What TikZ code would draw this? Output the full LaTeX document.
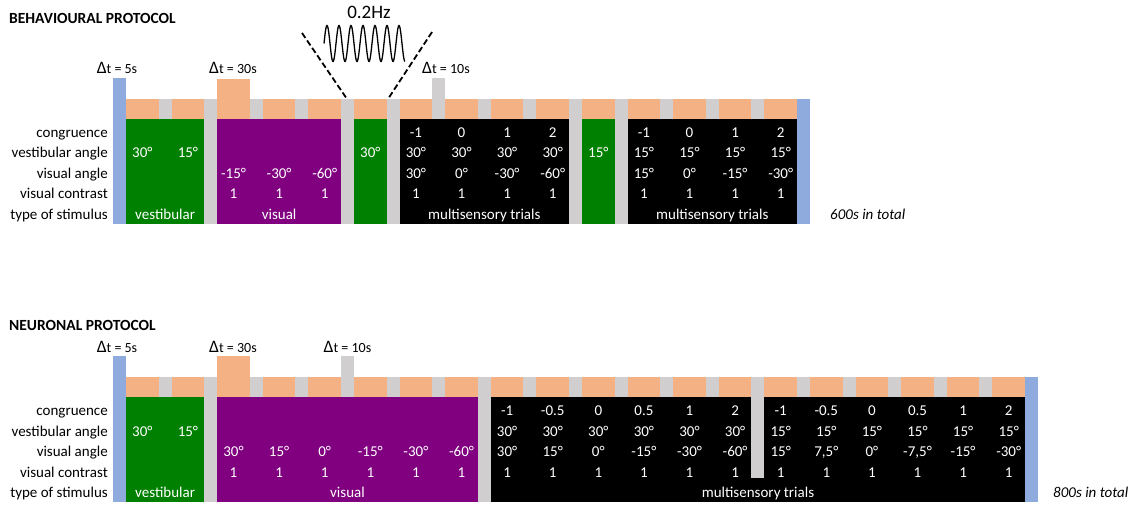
\documentclass[tikz,border=0pt]{standalone}
\usepackage{fontspec}
\setmainfont{Carlito}
\definecolor{peach}{HTML}{F4B183}
\definecolor{lgray}{HTML}{D0CECE}
\definecolor{lblue}{HTML}{8FAADC}
\definecolor{vgreen}{HTML}{008000}
\definecolor{vpurple}{HTML}{800080}
\newcommand{\dtlabel}[1]{{\fontsize{17.5}{18}\selectfont Δ}{\fontsize{14}{16}\selectfont t = #1}}
\begin{document}
\begin{tikzpicture}[x=1pt,y=-1pt,
  every node/.style={font=\fontsize{15}{18}\selectfont, inner sep=0pt},
  rowlab/.style={anchor=base east},
  val/.style={anchor=base, text=white},
  ttl/.style={anchor=base west, font=\fontsize{15.5}{18}\selectfont\bfseries},
  tot/.style={anchor=base west, font=\fontsize{15}{18}\selectfont\itshape},
  dtl/.style={anchor=base}]
\useasboundingbox (0,0) rectangle (1137,505);
\def\rA{137.5}\def\rB{158}\def\rC{178.5}\def\rD{199}\def\rE{219.5}
% ================= BEHAVIOURAL =================
\node[ttl] (t1) at (9,23.3) {BEHAVIOURAL PROTOCOL};
\fill[lgray] (126,99) rectangle (797,224);
\foreach \i in {0,...,14} \fill[peach] ({126+\i*45.6},99) rectangle ++(32.6,20);
\fill[peach] (217.2,79) rectangle (249.8,99);
\fill[lgray] (432.2,78) rectangle (445.2,99);
\fill[lblue] (113,78) rectangle (126,224);
\fill[lblue] (797,99) rectangle (810,224);
\fill[vgreen] (126,119) rectangle (204.2,224);
\fill[vpurple] (217.2,119) rectangle (341,224);
\fill[vgreen] (354,119) rectangle (386.6,224);
\fill[black] (399.6,119) rectangle (569,224);
\fill[vgreen] (582,119) rectangle (614.6,224);
\fill[black] (627.6,119) rectangle (797,224);
% labels
\node[rowlab] (a1) at (108,\rA) {congruence};
\node[rowlab] (a2) at (108,\rB) {vestibular angle};
\node[rowlab] (a3) at (108,\rC) {visual angle};
\node[rowlab] (a4) at (108,\rD) {visual contrast};
\node[rowlab] (a5) at (108,\rE) {type of stimulus};
\foreach \i/\t in {6/-1,7/0,8/1,9/2,11/-1,12/0,13/1,14/2}
  \node[val] (ac\i) at ({142.3+\i*45.6},\rA) {\t};
\foreach \i/\t in {0/30°,1/15°,5/30°,6/30°,7/30°,8/30°,9/30°,10/15°,11/15°,12/15°,13/15°,14/15°}
  \node[val] (av\i) at ({142.3+\i*45.6},\rB) {\t};
\foreach \i/\t in {2/-15°,3/-30°,4/-60°,6/30°,7/0°,8/-30°,9/-60°,11/15°,12/0°,13/-15°,14/-30°}
  \node[val] (aw\i) at ({142.3+\i*45.6},\rC) {\t};
\foreach \i in {2,3,4,6,7,8,9,11,12,13,14}
  \node[val] (ak\i) at ({142.3+\i*45.6},\rD) {1};
\node[val] (as1) at (165.1,\rE) {vestibular};
\node[val] (as2) at (279.1,\rE) {visual};
\node[val] (as3) at (484.3,\rE) {multisensory trials};
\node[val] (as4) at (712.3,\rE) {multisensory trials};
\node[tot] (tot1) at (830,\rE) {600s in total};
\node[dtl] (d1) at (117,74) {\dtlabel{5s}};
\node[dtl] (d2) at (233,74) {\dtlabel{30s}};
\node[dtl] (d3) at (446,74) {\dtlabel{10s}};
% 0.2 Hz
\node[anchor=base, font=\fontsize{19}{22}\selectfont] (hz) at (369,19) {0.2Hz};
\draw[line width=1.3pt] plot[domain=0:6.75, samples=220, smooth] ({324+\x*12},{43.5-18*sin(\x*360)});
\coordinate (l1) at (302,33); \coordinate (l2) at (347,99);
\coordinate (r1) at (432,32); \coordinate (r2) at (388,99);
\draw[line width=1.8pt, dash pattern=on 6pt off 3pt] (l1) -- (l2);
\draw[line width=1.8pt, dash pattern=on 6pt off 3pt] (r1) -- (r2);
% ================= NEURONAL =================
\begin{scope}[shift={(0,278)}]
\node[ttl] (t2) at (9,52.7) {NEURONAL PROTOCOL};
\fill[lgray] (126,99) rectangle (1025.2,224);
\foreach \i in {0,...,19} \fill[peach] ({126+\i*45.6},99) rectangle ++(32.6,20);
\fill[peach] (217.2,78) rectangle (249.8,99);
\fill[lgray] (341,78) rectangle (354,99);
\fill[lblue] (113,78) rectangle (126,224);
\fill[lblue] (1025.2,99) rectangle (1038.2,224);
\fill[vgreen] (126,119) rectangle (204.2,224);
\fill[vpurple] (217.2,119) rectangle (477.8,224);
\fill[black] (490.8,119) rectangle (1025.2,224);
\fill[lgray] (751.4,119) rectangle (764.4,200);
\node[rowlab] (b1) at (108,\rA) {congruence};
\node[rowlab] (b2) at (108,\rB) {vestibular angle};
\node[rowlab] (b3) at (108,\rC) {visual angle};
\node[rowlab] (b4) at (108,\rD) {visual contrast};
\node[rowlab] (b5) at (108,\rE) {type of stimulus};
\foreach \i/\t in {8/-1,9/-0.5,10/0,11/0.5,12/1,13/2,14/-1,15/-0.5,16/0,17/0.5,18/1,19/2}
  \node[val] (bc\i) at ({142.3+\i*45.6},\rA) {\t};
\foreach \i/\t in {0/30°,1/15°,8/30°,9/30°,10/30°,11/30°,12/30°,13/30°,14/15°,15/15°,16/15°,17/15°,18/15°,19/15°}
  \node[val] (bv\i) at ({142.3+\i*45.6},\rB) {\t};
\foreach \i/\t in {2/30°,3/15°,4/0°,5/-15°,6/-30°,7/-60°,8/30°,9/15°,10/0°,11/-15°,12/-30°,13/-60°,14/15°,15/{7,5°},16/0°,17/{-7,5°},18/-15°,19/-30°}
  \node[val] (bw\i) at ({142.3+\i*45.6},\rC) {\t};
\foreach \i in {2,...,19}
  \node[val] (bk\i) at ({142.3+\i*45.6},\rD) {1};
\node[val] (bs1) at (165.1,\rE) {vestibular};
\node[val] (bs2) at (347.5,\rE) {visual};
\node[val] (bs3) at (758,\rE) {multisensory trials};
\node[tot] (tot2) at (1053,\rE) {800s in total};
\node[dtl] (e1) at (117,74) {\dtlabel{5s}};
\node[dtl] (e2) at (233,74) {\dtlabel{30s}};
\node[dtl] (e3) at (347.5,74) {\dtlabel{10s}};
\end{scope}
\end{tikzpicture}
\end{document}
